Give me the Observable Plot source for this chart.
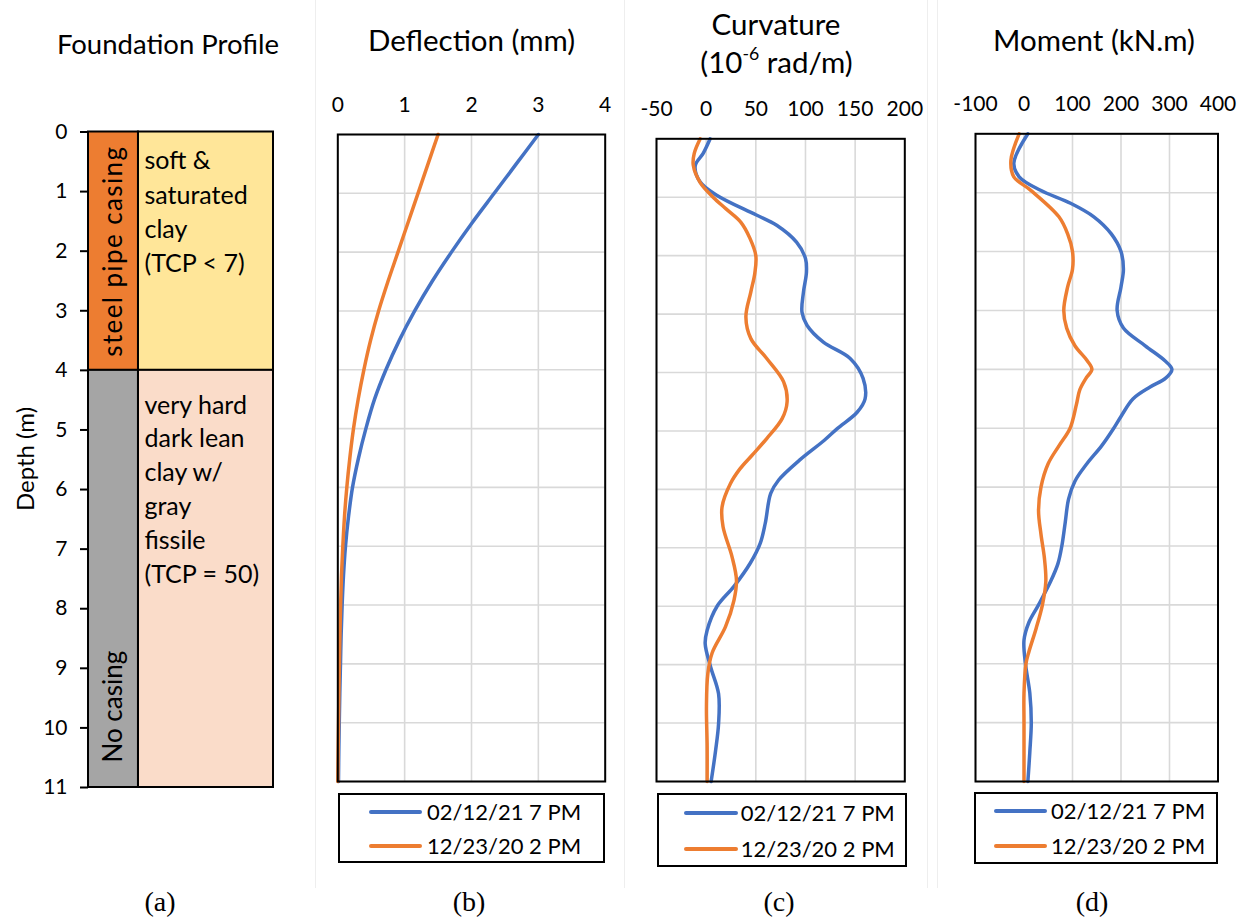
<!DOCTYPE html>
<html><head><meta charset="utf-8">
<script src="https://cdn.jsdelivr.net/npm/d3@7"></script>
<script src="https://cdn.jsdelivr.net/npm/@observablehq/plot@0.6"></script>
<style>
body{margin:0;background:#fff;}
#root{position:relative;width:1243px;height:922px;overflow:hidden;font-family:Lato,'Open Sans',sans-serif;color:#000;background:#fff}
.t{position:absolute;white-space:nowrap;transform:translate(-50%,-50%);line-height:1}
.sep{position:absolute;background:#eeeeee}
.legend{position:absolute;box-sizing:border-box;border:2px solid #000;background:#fff}
.sw{position:absolute;height:4px;border-radius:2px;transform:translateY(-50%)}
.lt{position:absolute;white-space:nowrap;transform:translateY(-50%);font-size:22px;line-height:1}
.cap{position:absolute;transform:translate(-50%,0);font-family:'Liberation Serif','DejaVu Serif',serif;font-size:28px;white-space:nowrap}
</style></head><body><div id="root"></div>
<script>
const FONT = "Lato, 'Open Sans', sans-serif";
// ---------- shared ----------
const seriesNames = ["02/12/21 7 PM", "12/23/20 2 PM"];
const seriesColors = ["#4472C4", "#ED7D31"];
const depthTicks = [0,1,2,3,4,5,6,7,8,9,10,11];

// ---------- (a) foundation profile ----------
const layerKinds = ["casing", "nocasing", "soft", "hard"];
const layerColors = ["#ED7D31", "#A5A5A5", "#FFE699", "#FADCC9"];
const casingLayers = [
  {top: 0, bottom: 4, kind: "casing", label: "steel pipe casing"},
  {top: 4, bottom: 11, kind: "nocasing", label: "No casing"}
];
const soilLayers = [
  {top: 0, bottom: 4, kind: "soft", lines: ["soft &", "saturated", "clay", "(TCP < 7)"]},
  {top: 4, bottom: 11, kind: "hard", lines: ["very hard", "dark lean", "clay w/", "gray", "fissile", "(TCP = 50)"]}
];

// ---------- (b) deflection (mm) ----------
const defDepth  = [0,0.5,1,1.5,2,2.5,3,3.5,4,4.5,5,5.5,6,6.5,7,7.5,8,8.5,9,9.5,10,10.5,11];
const defBlue   = [3.0,2.67,2.34,2.01,1.70,1.41,1.15,0.92,0.72,0.55,0.42,0.31,0.22,0.16,0.115,0.085,0.065,0.05,0.04,0.03,0.022,0.015,0.01];
const defOrange = [1.5,1.35,1.2,1.05,0.9,0.75,0.61,0.49,0.39,0.305,0.235,0.18,0.135,0.1,0.075,0.055,0.042,0.032,0.024,0.017,0.011,0.005,0];
const defTicks = [0,1,2,3,4];

// ---------- (c) curvature (1e-6 rad/m) ----------
const curvBlueDepth = [0,0.25,0.46,0.74,0.97,1.3,1.48,1.77,2.05,2.28,2.62,2.97,3.19,3.48,3.76,4.1,4.45,4.68,4.96,5.16,5.5,5.84,6.07,6.58,6.92,7.26,7.66,8.0,8.41,8.64,9.04,9.5,10.01,10.47,11];
const curvBlue      = [4,-3,-11,-6,11,50,71,91,100,101,98,96.5,101.5,118,145,158,160,152,132,119,94,73,65,59.5,54.5,44.5,28,11,1,-1,4.5,12.5,12.5,9.5,5];
const curvOrangeDepth = [0,0.25,0.45,0.75,1.0,1.2,1.43,1.7,2.0,2.3,2.62,3.05,3.42,3.76,4.16,4.5,4.79,5.13,5.42,5.65,5.9,6.3,6.64,7.15,7.55,7.9,8.35,8.8,9.15,9.72,10.4,11];
const curvOrange      = [-6,-12,-13,-6,7,20,35,44,50,49,45,40,45,61,78,81.5,76.5,61,46,34,24.5,16,17,26,30.5,28,19.5,6,1.7,0.3,1,1];
const curvTicks = [-50,0,50,100,150,200];

// ---------- (d) moment (kN.m) ----------
const momBlueDepth = [0,0.5,0.73,0.96,1.18,1.41,1.7,2.0,2.3,2.6,3.0,3.3,3.6,3.85,4.0,4.15,4.3,4.5,4.8,5.0,5.3,5.6,5.9,6.2,6.6,7.0,7.3,7.6,8.0,8.3,8.6,9.0,9.5,10.0,10.5,11];
const momBlue      = [8,-21,-10,34,96,144,180,200,205,200,192,205,250,290,305,292,260,225,200,185,160,130,105,92,85,78,70,55,30,10,0,3,12,15,12,8];
const momOrangeDepth = [0,0.45,0.73,0.96,1.41,1.7,2.0,2.3,2.6,3.0,3.3,3.6,3.85,4.0,4.15,4.35,4.6,5.0,5.3,5.6,6.0,6.4,6.8,7.2,7.6,8.0,8.4,8.8,9.0,9.5,10.0,11];
const momOrange      = [-10,-27,-21,14,72,90,100,100,90,82,88,105,130,140,128,115,108,95,72,50,35,30,35,42,45,38,25,10,4,0,0,0];
const momTicks = [-100,0,100,200,300,400];

// ---------- helpers ----------
const root = document.getElementById("root");
function rows(depths, values, series) { return depths.map((d, i) => ({series, d, v: values[i]})); }
function place(el, left, top) { el.style.position = "absolute"; el.style.left = left + "px"; el.style.top = top + "px"; root.appendChild(el); return el; }
function html(cls, left, top, inner, extra) {
  const e = document.createElement("div"); e.className = cls; e.innerHTML = inner;
  e.style.left = left + "px"; e.style.top = top + "px";
  if (extra) Object.assign(e.style, extra);
  root.appendChild(e); return e;
}

// faint panel separators
[[315,0,1,888],[624,0,1,888],[927,0,1,888],[937,0,1,888]].forEach(([x,y,w,h]) => {
  const s = document.createElement("div"); s.className = "sep";
  Object.assign(s.style, {left:x+"px", top:y+"px", width:w+"px", height:h+"px"}); root.appendChild(s);
});

// ---------- panel (a) ----------
{
  const box = {x: 0, w: 315, h: 800};
  const fr = {l: 88, r: 273, t: 131.5, b: 787};
  const casW = 0.27;
  const svg = Plot.plot({
    width: box.w, height: box.h,
    marginLeft: fr.l - box.x, marginRight: box.x + box.w - fr.r, marginTop: fr.t, marginBottom: box.h - fr.b,
    style: {fontFamily: FONT, fontSize: "21px", background: "transparent", overflow: "visible", color: "#000"},
    x: {domain: [0, 1], axis: null},
    y: {domain: [0, 11], reverse: true, axis: null},
    color: {domain: layerKinds, range: layerColors},
    marks: [
      Plot.rect(soilLayers, {x1: () => casW, x2: () => 1, y1: "top", y2: "bottom", fill: "kind", stroke: "#000", strokeWidth: 2}),
      Plot.rect(casingLayers, {x1: () => 0, x2: () => casW, y1: "top", y2: "bottom", fill: "kind", stroke: "#000", strokeWidth: 2}),
      Plot.text(soilLayers.slice(0, 1), {x: () => casW, y: "top", text: d => d.lines.join("\n"), textAnchor: "start", lineAnchor: "top", dx: 6, dy: 13, fontSize: 25, lineHeight: 1.37, fill: "#000"}),
      Plot.text(soilLayers.slice(1), {x: () => casW, y: "top", text: d => d.lines.join("\n"), textAnchor: "start", lineAnchor: "top", dx: 6, dy: 19, fontSize: 25, lineHeight: 1.36, fill: "#000"}),
      Plot.text(casingLayers.slice(0, 1), {x: () => casW / 2, y: d => (d.top + d.bottom) / 2, text: "label", rotate: -90, fontSize: 26, fill: "#000"}),
      Plot.text(casingLayers.slice(1), {x: () => casW / 2, y: "bottom", text: "label", rotate: -90, textAnchor: "start", dy: -25, fontSize: 26, fill: "#000"}),
      Plot.axisY(depthTicks, {anchor: "left", tickSize: 8, tickPadding: 13, tickFormat: d => String(d), strokeWidth: 2, fontSize: 21, label: null})
    ]
  });
  d3.select(svg).selectAll("text").filter(function() { return this.textContent === casingLayers[0].label; }).style("letter-spacing", "1.4px");
  place(svg, box.x, 0);
  html("t", 168, 44, "Foundation Profile", {fontSize: "27.5px"});
  html("t", 25, 459, "Depth (m)", {fontSize: "24px", transform: "translate(-50%,-50%) rotate(-90deg)"});
}

// ---------- line panels ----------
function linePanel({data, xDomain, xTicks, box, fr, pad}) {
  const svg = Plot.plot({
    width: box.w, height: box.h,
    marginLeft: fr.l - box.x, marginRight: box.x + box.w - fr.r, marginTop: fr.t, marginBottom: box.h - fr.b,
    style: {fontFamily: FONT, fontSize: "21px", background: "transparent", overflow: "visible", color: "#000"},
    x: {domain: xDomain, axis: null},
    y: {domain: [0, 11], reverse: true, axis: null},
    color: {domain: seriesNames, range: seriesColors},
    marks: [
      Plot.gridX(xTicks, {stroke: "#d9d9d9", strokeOpacity: 1, strokeWidth: 1.6}),
      Plot.gridY(depthTicks, {stroke: "#d9d9d9", strokeOpacity: 1, strokeWidth: 1.6}),
      Plot.line(data, {x: "v", y: "d", z: "series", stroke: "series", strokeWidth: 3.5, curve: "catmull-rom"}),
      Plot.frame({stroke: "#000", strokeWidth: 2}),
      Plot.axisX(xTicks, {anchor: "top", tickSize: 0, tickPadding: pad, tickFormat: d => String(d), fontSize: 21, label: null})
    ]
  });
  place(svg, box.x, 0);
}
function legend(left, top, w, h, lineX, lineW, textX, ys) {
  const lg = html("legend", left, top, "", {width: w + "px", height: h + "px"});
  seriesNames.forEach((name, i) => {
    const s = document.createElement("div"); s.className = "sw";
    Object.assign(s.style, {left: lineX + "px", top: ys[i] + "px", width: lineW + "px", background: seriesColors[i]});
    lg.appendChild(s);
    const t = document.createElement("div"); t.className = "lt"; t.textContent = name;
    Object.assign(t.style, {left: textX + "px", top: ys[i] + "px"});
    lg.appendChild(t);
  });
}

// (b)
linePanel({
  data: [...rows(defDepth, defBlue, seriesNames[0]), ...rows(defDepth, defOrange, seriesNames[1])],
  xDomain: [0, 4], xTicks: defTicks,
  box: {x: 315, w: 310, h: 790}, fr: {l: 337.3, r: 604.7, t: 134, b: 781}, pad: 23
});
html("t", 471.5, 40, "Deflection (mm)", {fontSize: "29.5px"});
legend(338, 793, 267, 70, 29, 53, 87, [17, 51]);

// (c)
linePanel({
  data: [...rows(curvBlueDepth, curvBlue, seriesNames[0]), ...rows(curvOrangeDepth, curvOrange, seriesNames[1])],
  xDomain: [-50, 200], xTicks: curvTicks,
  box: {x: 625, w: 310, h: 790}, fr: {l: 656, r: 904.3, t: 138.3, b: 781}, pad: 23
});
html("t", 776, 24, "Curvature", {fontSize: "29.5px"});
html("t", 776.5, 62, "(10<sup style='font-size:60%;vertical-align:0;position:relative;top:-0.75em'>-6</sup> rad/m)", {fontSize: "29.5px"});
legend(656.7, 792.7, 250, 74, 25, 54, 82, [18, 54]);

// (d)
linePanel({
  data: [...rows(momBlueDepth, momBlue, seriesNames[0]), ...rows(momOrangeDepth, momOrange, seriesNames[1])],
  xDomain: [-100, 400], xTicks: momTicks,
  box: {x: 935, w: 308, h: 790}, fr: {l: 975, r: 1217.5, t: 133.3, b: 781}, pad: 23
});
html("t", 1094, 40, "Moment (kN.m)", {fontSize: "29.5px"});
legend(974, 791.7, 244, 72, 18, 53, 75, [17, 52]);

// captions
[["(a)", 160], ["(b)", 469], ["(c)", 779], ["(d)", 1092]].forEach(([c, x]) => html("cap", x, 886, c));
</script></body></html>
